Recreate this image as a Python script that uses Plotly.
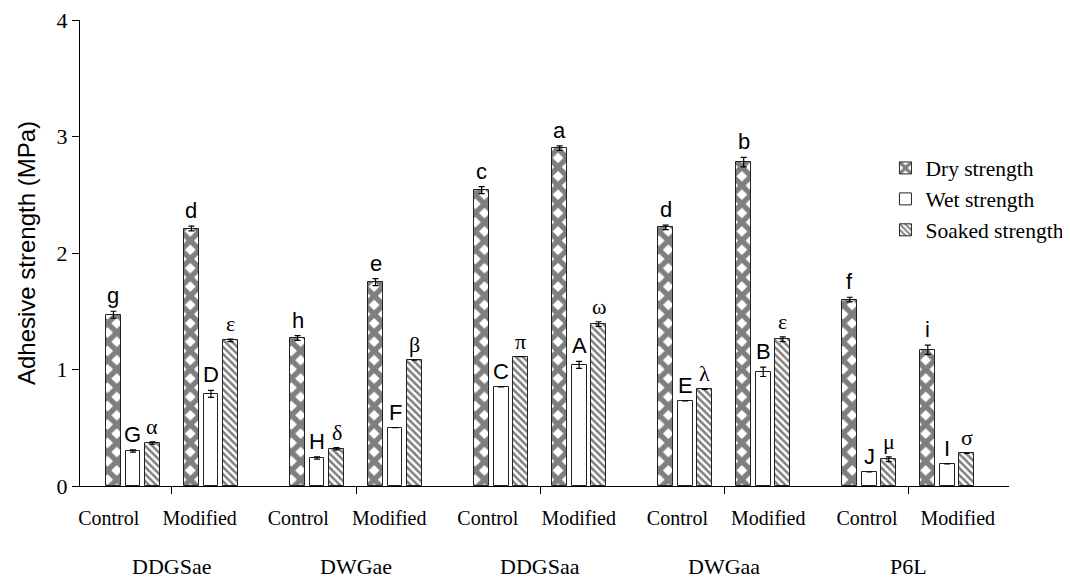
import plotly.graph_objects as go

materials = ["DDGSae", "DWGae", "DDGSaa", "DWGaa", "P6L"]
treatments = ["Control", "Modified"]
series_names = ["Dry strength", "Wet strength", "Soaked strength"]

# values ordered: material0-Control, material0-Modified, material1-Control, ...
dry = [1.47, 2.21, 1.27, 1.75, 2.54, 2.90, 2.22, 2.78, 1.60, 1.17]
wet = [0.30, 0.79, 0.24, 0.50, 0.85, 1.04, 0.73, 0.98, 0.12, 0.19]
soaked = [0.37, 1.25, 0.32, 1.08, 1.11, 1.39, 0.83, 1.26, 0.23, 0.28]

dry_err = [0.03, 0.02, 0.02, 0.03, 0.03, 0.02, 0.02, 0.04, 0.02, 0.04]
wet_err = [0.01, 0.03, 0.01, 0.0, 0.0, 0.03, 0.0, 0.04, 0.0, 0.0]
soaked_err = [0.01, 0.01, 0.01, 0.0, 0.0, 0.02, 0.0, 0.02, 0.02, 0.0]

dry_letters = ["g", "d", "h", "e", "c", "a", "d", "b", "f", "i"]
wet_letters = ["G", "D", "H", "F", "C", "A", "E", "B", "J", "I"]
soaked_letters = ["α", "ε", "δ", "β", "π", "ω", "λ", "ε", "μ", "σ"]

y_ticks = [0, 1, 2, 3, 4]

# ---- layout geometry (computed) ----
GROUP_SPACING = 2.36   # distance between materials, in units of Control->Modified distance
BAR_STEP = 0.25
BAR_WIDTH = 0.19
LABEL_SPACING = 2.43   # treatment labels are spread slightly wider than the bar groups
LABEL_SEP = 1.165
LABEL_SHIFT = -0.31

centers = []
label_pos = []
for i in range(len(materials)):
    for j in range(len(treatments)):
        centers.append(i * GROUP_SPACING + j)
        label_pos.append(i * LABEL_SPACING + j * LABEL_SEP + LABEL_SHIFT)
tick_mids = [i * GROUP_SPACING + 0.5 for i in range(len(materials))]
tick_text = [t for _ in materials for t in treatments]

series = [
    (series_names[0], dry, dry_err, dry_letters,
     dict(shape="x", fgcolor="black", bgcolor="white", size=13, solidity=0.65),
     "Liberation Sans, Arial"),
    (series_names[1], wet, wet_err, wet_letters,
     dict(shape=""),
     "Liberation Sans, Arial"),
    (series_names[2], soaked, soaked_err, soaked_letters,
     dict(shape="\\", fgcolor="black", bgcolor="white", size=5, solidity=0.5),
     "Liberation Serif, Times New Roman"),
]

fig = go.Figure()
annotations = []
for k, (name, vals, errs, letters, pattern, lfont) in enumerate(series):
    off = (k - 1) * BAR_STEP - BAR_WIDTH / 2
    fig.add_trace(go.Bar(
        name=name,
        x=centers,
        y=vals,
        width=BAR_WIDTH,
        offset=off,
        marker=dict(color="white", line=dict(color="#222222", width=1), pattern=pattern),
        error_y=dict(type="data", array=errs, visible=True, color="black",
                     thickness=1.2, width=3),
    ))
    for c, v, e, L in zip(centers, vals, errs, letters):
        annotations.append(dict(
            x=c + (k - 1) * BAR_STEP, y=v + e, xref="x", yref="y",
            text=L, showarrow=False, yanchor="bottom", xanchor="center",
            yshift=1,
            font=dict(family=lfont, size=22, color="black"),
        ))

for i, m in enumerate(materials):
    annotations.append(dict(
        x=tick_mids[i], y=-0.173, xref="x", yref="paper", text=m,
        showarrow=False, xanchor="center", yanchor="middle",
        font=dict(family="Liberation Serif, Times New Roman", size=22, color="black"),
    ))

x_lo = -0.679
x_hi = x_lo + 929 / 78.0

fig.update_layout(
    width=1062, height=571,
    margin=dict(l=72, r=61, t=12, b=93, autoexpand=False),
    plot_bgcolor="white", paper_bgcolor="white",
    showlegend=True,
    legend=dict(x=0.867, y=0.7265, xanchor="left", yanchor="top",
                font=dict(family="Liberation Serif, Times New Roman", size=21.5, color="black"),
                bgcolor="rgba(0,0,0,0)", tracegroupgap=0, itemwidth=30),
    annotations=annotations,
    bargap=0,
)
fig.update_xaxes(
    range=[x_lo, x_hi], showgrid=False, zeroline=False, automargin=False,
    showline=True, linecolor="black", linewidth=1,
    tickmode="array", tickvals=label_pos, ticktext=tick_text, ticks="",
    tickfont=dict(family="Liberation Serif, Times New Roman", size=20, color="black"),
    ticklabelstandoff=14, ticklabeloverflow="allow",
    minor=dict(tickmode="array", tickvals=tick_mids, ticks="outside", ticklen=7,
               tickcolor="black", tickwidth=1),
)
fig.update_yaxes(
    range=[0, 4], showgrid=False, zeroline=False, automargin=False,
    showline=True, linecolor="black", linewidth=1,
    tickmode="array", tickvals=y_ticks, ticks="outside", ticklen=7,
    tickcolor="black", ticklabeloverflow="allow",
    tickfont=dict(family="Liberation Serif, Times New Roman", size=22, color="black"),
    title=dict(text="Adhesive strength (MPa)", standoff=14,
               font=dict(family="Liberation Sans, Arial", size=24, color="black")),
)

fig.write_html("out.html")
